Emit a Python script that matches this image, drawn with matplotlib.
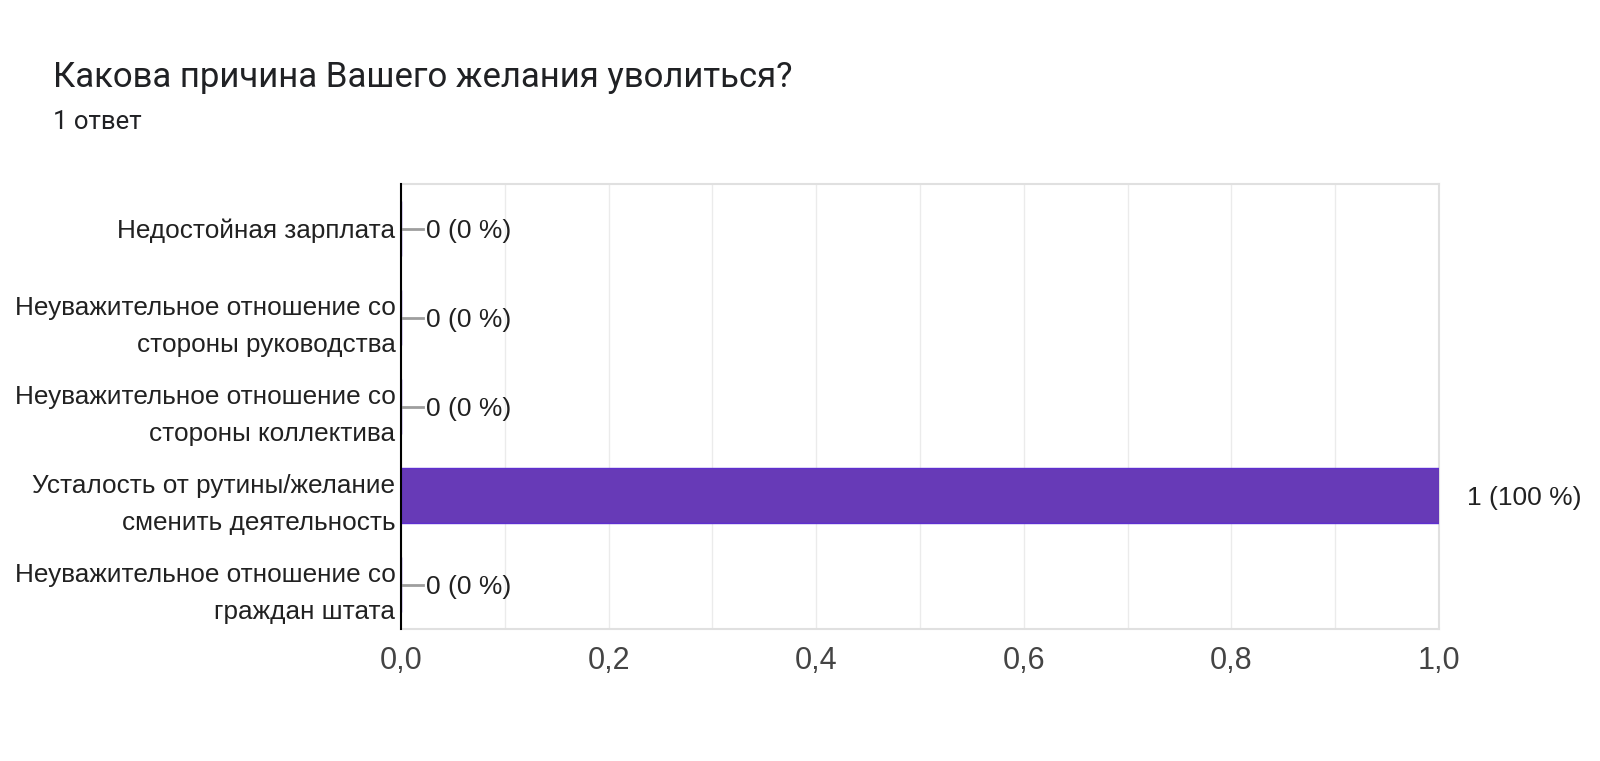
import numpy as np
import matplotlib.pyplot as plt

plt.rcParams["font.family"] = ["Liberation Sans", "DejaVu Sans"]

title = "Какова причина Вашего желания уволиться?"
subtitle = "1 ответ"
categories = [
    "Недостойная зарплата",
    "Неуважительное отношение со\nстороны руководства",
    "Неуважительное отношение со\nстороны коллектива",
    "Усталость от рутины/желание\nсменить деятельность",
    "Неуважительное отношение со\nграждан штата",
]
counts = [0, 0, 0, 1, 0]
percents = [0, 0, 0, 100, 0]
xticks = [0.0, 0.2, 0.4, 0.6, 0.8, 1.0]

fig = plt.figure(figsize=(16, 7.61), dpi=100)
ax = fig.add_axes([401 / 1600, 1 - 629 / 761, (1439 - 401) / 1600, (629 - 184) / 761])

y = np.arange(len(categories))
ax.barh(y, counts, height=0.61, color="#673ab7", edgecolor="#5e2fd0", linewidth=1, zorder=3)

for i, (c, p) in enumerate(zip(counts, percents)):
    if c == 0:
        ax.plot([0, 0.021], [i, i], color="#9e9e9e", lw=2, zorder=4, clip_on=False)
        ax.text(0.024, i, f"{c} ({p} %)", va="center_baseline", ha="left", fontsize=19, color="#212121")
    else:
        ax.text(c + 0.027, i, f"{c} ({p} %)", va="center_baseline", ha="left", fontsize=19, color="#212121")

ax.set_ylim(len(categories) - 0.5, -0.5)
ax.set_xlim(0, 1.0)
ax.set_yticks(y)
ax.set_yticklabels(categories, fontsize=18.8, color="#212121", linespacing=1.7)
ax.set_xticks(xticks)
ax.set_xticklabels([f"{t:.1f}".replace(".", ",") for t in xticks], fontsize=22, color="#444444")
ax.set_xticks(np.arange(0.1, 1.0, 0.2), minor=True)
ax.tick_params(axis="both", which="both", length=0)
ax.tick_params(axis="x", pad=12)
ax.tick_params(axis="y", pad=4)
ax.grid(axis="x", which="both", color="#ebebeb", lw=1, zorder=0)

for s in ["top", "right", "bottom"]:
    ax.spines[s].set_color("#e0e0e0")
    ax.spines[s].set_linewidth(1.5)
ax.spines["left"].set_color("#000000")
ax.spines["left"].set_linewidth(1.5)
ax.spines["left"].set_zorder(5)

fig.text(53 / 1600, 1 - 77 / 761, title, fontsize=25, family="Roboto", color="#202124", va="center")
fig.text(53 / 1600, 1 - 122 / 761, subtitle, fontsize=18.5, family="Roboto", color="#202124", va="center")

fig.savefig("out.png", dpi=100, facecolor="white")
